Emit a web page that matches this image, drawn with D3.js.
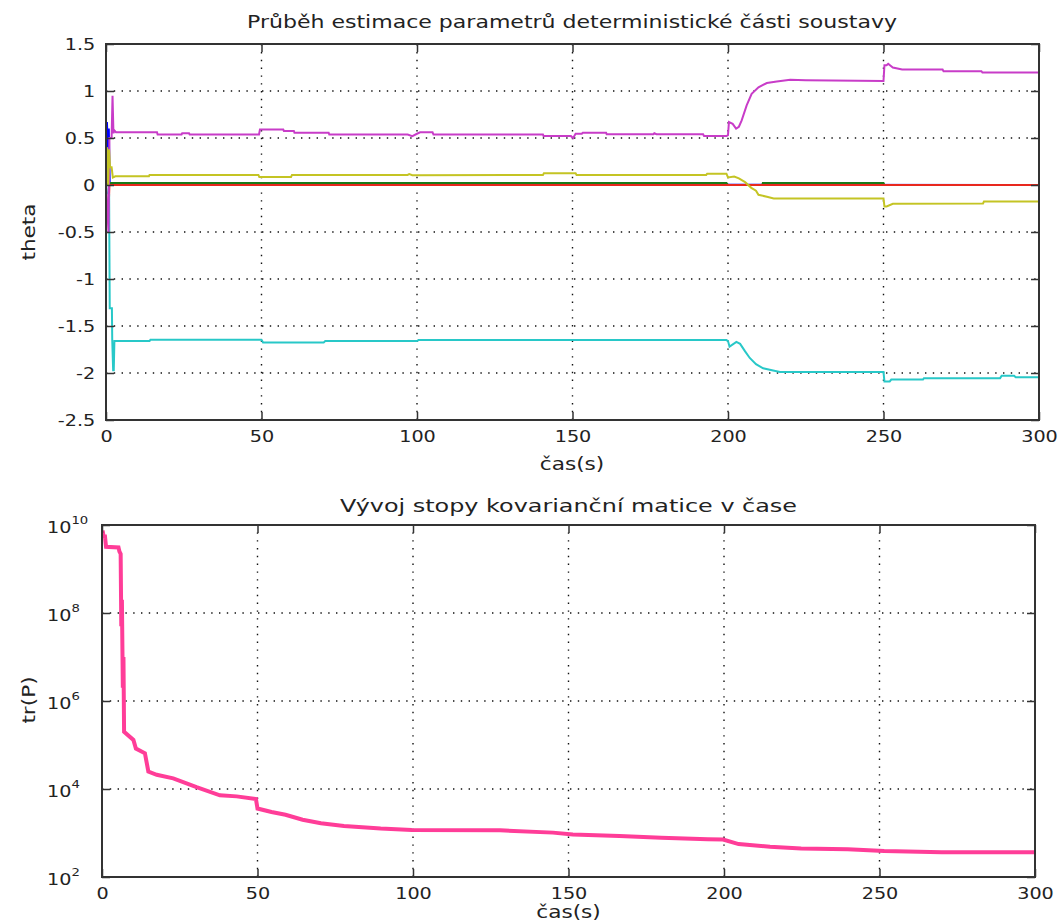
<!doctype html>
<html>
<head>
<meta charset="utf-8">
<script src="https://d3js.org/d3.v7.min.js"></script>
<style>
  body { margin: 0; background: #fff; }
  text { font-family: "DejaVu Sans", sans-serif; fill: #222; }
  .tick text { font-size: 16px; }
  .tick line { stroke: #333; stroke-width: 1.5; }
  .grid line { stroke: #111; stroke-width: 1.4; stroke-dasharray: 1.4, 6.4; }
  .frame { fill: none; stroke: #333; stroke-width: 2; }
  .series { fill: none; stroke-linejoin: miter; }
</style>
</head>
<body>
<svg id="chart" width="1063" height="924"></svg>
<script>
// ---- data: [time (s), value] ----
var timeTicks = [0, 50, 100, 150, 200, 250, 300];
var thetaTicks = [-2.5, -2, -1.5, -1, -0.5, 0, 0.5, 1, 1.5];
var thetaTickLabels = ["-2.5", "-2", "-1.5", "-1", "-0.5", "0", "0.5", "1", "1.5"];
var trTicks = [1e2, 1e4, 1e6, 1e8, 1e10];
var trTickExp = ["2", "4", "6", "8", "10"];

var theta1 = [[0,0],[0.3,0.67],[0.6,0.4],[0.9,0.6],[1.2,0.01],[300,0]];
var theta2 = [[0,0],[1,0.02],[199.5,0.02],[200,0],[211,0],[211.2,0.02],[250,0.02],[250.3,0],[300,0]];
var theta3 = [[0,0],[0.3,-0.36],[0.8,-0.3],[1.1,0],[300,0]];
var theta4 = [[0,0],[0.3,-0.08],[1.0,-0.1],[1.2,-1.31],[1.9,-1.31],[2.0,-1.64],[2.3,-1.97],[2.5,-1.97],
  [2.7,-1.66],[14,-1.66],[14.3,-1.645],[50,-1.645],[50.5,-1.675],[70,-1.675],[70.5,-1.66],[100,-1.66],
  [100.5,-1.65],[199.5,-1.65],[200,-1.66],[200.5,-1.72],[202.7,-1.67],[203.9,-1.69],[205.5,-1.77],
  [207,-1.84],[209,-1.906],[211.3,-1.95],[214.5,-1.973],[216.7,-1.99],[250,-1.99],[250.3,-2.09],
  [252,-2.09],[252.5,-2.07],[262.7,-2.07],[263,-2.055],[287.5,-2.055],[288,-2.03],[292,-2.03],
  [292.5,-2.045],[300,-2.045]];
var theta5 = [[0,0],[0.8,-0.5],[1.1,0.5],[1.8,0.5],[2.1,0.95],[2.4,0.55],[2.7,0.58],[3.2,0.562],
  [16.4,0.562],[16.6,0.537],[24.3,0.537],[24.5,0.55],[26.7,0.55],[26.9,0.537],[49.2,0.537],[49.5,0.59],
  [57,0.59],[57.2,0.575],[60.4,0.575],[60.6,0.555],[71.6,0.555],[71.8,0.537],[97,0.537],[98.5,0.52],
  [100,0.545],[101,0.56],[105,0.56],[105.3,0.537],[140.5,0.537],[140.7,0.52],[149.5,0.52],[150.2,0.5],
  [151,0.545],[153,0.545],[153.3,0.555],[160.8,0.555],[161,0.54],[176,0.54],[176.3,0.55],[177,0.54],
  [192,0.54],[192.3,0.52],[199.5,0.52],[200,0.53],[200.3,0.67],[201.5,0.65],[202.6,0.6],[203.5,0.62],
  [204.4,0.687],[206,0.847],[207.6,0.97],[209.8,1.04],[212.5,1.085],[215.7,1.1],[220,1.12],
  [225,1.115],[250,1.107],[250.3,1.275],[251,1.275],[251.5,1.29],[253,1.25],[256,1.228],[269,1.228],
  [269.3,1.21],[281.5,1.21],[281.8,1.197],[300,1.197]];
var theta6 = [[0,0],[0.3,0.4],[0.7,0],[1.0,0.38],[1.3,0.19],[1.8,0.19],[2.2,0.08],[3,0.092],
  [13.8,0.092],[14,0.107],[49,0.107],[49.3,0.085],[59.5,0.085],[59.8,0.107],[97,0.107],[97.5,0.117],
  [98.5,0.105],[140.5,0.107],[140.8,0.124],[151,0.124],[151.3,0.107],[193,0.107],[193.3,0.12],
  [199.5,0.12],[200,0.08],[202,0.09],[203.5,0.07],[205.5,0.03],[207.5,-0.03],[209,-0.06],
  [209.8,-0.104],[212.5,-0.125],[214.7,-0.143],[250,-0.143],[250.3,-0.228],[251,-0.228],[253,-0.2],
  [282,-0.196],[282.3,-0.175],[300,-0.175]];

var trP = [[0.2,7.5e9],[0.6,5e9],[0.9,6e9],[1.3,3.2e9],[5.3,3.1e9],[5.6,2.5e9],[6.0,2.2e9],[6.2,5e7],
  [6.4,2e8],[6.7,2e6],[6.9,1e7],[7.1,2e5],[10.1,1.3e5],[10.9,8.3e4],[13.8,6.5e4],[14.9,2.5e4],
  [17.6,2.1e4],[22.9,1.75e4],[30.4,1.1e4],[37.9,7.2e3],[43.3,6.8e3],[49.5,5.9e3],[50,3.6e3],
  [54.5,3.0e3],[59,2.6e3],[64.5,2.0e3],[70.4,1.66e3],[77.8,1.45e3],[89.6,1.26e3],[99.6,1.17e3],
  [128,1.15e3],[145,1.02e3],[151.4,930],[166.4,850],[179.8,775],[194.8,725],[199.7,710],[204.7,560],
  [214.8,490],[224.8,447],[239.8,427],[251.5,390],[270,363],[300,363]];

var thetaSeries = [theta1, theta2, theta3, theta4, theta5, theta6];
var thetaColors = ["#0000ff", "#1a7a1a", "#e8281e", "#28c8c8", "#c83cc8", "#c4c424"];

var svg = d3.select("#chart");
var sx = 1.2; // the reference text is drawn wide

var x1 = d3.scaleLinear().domain([0, 300]).range([106, 1039]);
var y1 = d3.scaleLinear().domain([-2.5, 1.5]).range([420, 44]);
var x2 = d3.scaleLinear().domain([0, 300]).range([102, 1035]);
var y2 = d3.scaleLog().domain([1e2, 1e10]).range([877, 525]);

function grid(xs, ys, xv, yv) {
  var g = svg.append("g").attr("class", "grid");
  g.selectAll(".gx").data(xv).enter().append("line")
    .attr("x1", d => xs(d)).attr("x2", d => xs(d))
    .attr("y1", ys.range()[0]).attr("y2", ys.range()[1]);
  g.selectAll(".gy").data(yv).enter().append("line")
    .attr("y1", d => ys(d)).attr("y2", d => ys(d))
    .attr("x1", xs.range()[0]).attr("x2", xs.range()[1]);
}

function clip(id, xs, ys) {
  svg.append("clipPath").attr("id", id).append("rect")
    .attr("x", xs.range()[0]).attr("y", ys.range()[1])
    .attr("width", xs.range()[1] - xs.range()[0])
    .attr("height", ys.range()[0] - ys.range()[1]);
}

function frame(xs, ys, xv, yv) {
  var l = xs.range()[0], r = xs.range()[1], t = ys.range()[1], b = ys.range()[0];
  svg.append("g").attr("transform", "translate(0," + t + ")")
    .call(d3.axisTop(xs).tickValues(xv).tickFormat(() => "").tickSizeInner(-8).tickSizeOuter(0))
    .call(g => g.select(".domain").remove());
  svg.append("g").attr("transform", "translate(" + r + ",0)")
    .call(d3.axisRight(ys).tickValues(yv).tickFormat(() => "").tickSizeInner(-8).tickSizeOuter(0))
    .call(g => g.select(".domain").remove());
  svg.append("g").attr("transform", "translate(0," + b + ")")
    .call(d3.axisBottom(xs).tickValues(xv).tickSizeInner(-8).tickSizeOuter(0).tickPadding(11))
    .call(g => g.select(".domain").remove())
    .selectAll("text").attr("transform", "scale(" + sx + ",1)");
  svg.append("rect").attr("class", "frame")
    .attr("x", l).attr("y", t).attr("width", r - l).attr("height", b - t);
}

// ---- top plot ----
grid(x1, y1, timeTicks.slice(1, -1), thetaTicks.slice(1, -1));
clip("c1", x1, y1);
var line1 = d3.line().x(d => x1(d[0])).y(d => y1(d[1]));
svg.append("g").attr("clip-path", "url(#c1)")
  .selectAll("path").data(thetaSeries).enter().append("path")
  .attr("class", "series")
  .attr("stroke", (d, i) => thetaColors[i])
  .attr("stroke-width", 2)
  .attr("d", line1);
frame(x1, y1, timeTicks, thetaTicks);
svg.append("g").attr("transform", "translate(106,0)")
  .call(d3.axisLeft(y1).tickValues(thetaTicks).tickFormat((d, i) => thetaTickLabels[i])
    .tickSizeInner(-8).tickSizeOuter(0).tickPadding(9))
  .call(g => g.select(".domain").remove())
  .selectAll("text").attr("transform", "scale(" + sx + ",1)");

svg.append("text").attr("x", 572).attr("y", 28).attr("text-anchor", "middle")
  .attr("textLength", 650).attr("lengthAdjust", "spacingAndGlyphs")
  .style("font-size", "17px")
  .text("Průběh estimace parametrů deterministické části soustavy");
svg.append("text").attr("transform", "translate(572,470) scale(" + sx + ",1)")
  .attr("text-anchor", "middle").style("font-size", "18px").text("čas(s)");
svg.append("text").attr("transform", "translate(35,232) rotate(-90) scale(" + sx + ",1)")
  .attr("text-anchor", "middle").style("font-size", "18px").text("theta");

// ---- bottom plot ----
grid(x2, y2, timeTicks.slice(1, -1), trTicks.slice(1, -1));
clip("c2", x2, y2);
var line2 = d3.line().x(d => x2(d[0])).y(d => y2(d[1]));
svg.append("g").attr("clip-path", "url(#c2)")
  .append("path").datum(trP)
  .attr("class", "series")
  .attr("stroke", "#ff3d98")
  .attr("stroke-width", 4)
  .attr("d", line2);
frame(x2, y2, timeTicks, trTicks);
var ly = svg.append("g").attr("transform", "translate(102,0)")
  .call(d3.axisLeft(y2).tickValues(trTicks).tickFormat(() => "")
    .tickSizeInner(-8).tickSizeOuter(0))
  .call(g => g.select(".domain").remove());
ly.selectAll(".tick").append("text")
  .attr("transform", "translate(-55,7) scale(" + sx + ",1)")
  .attr("x", 0).attr("text-anchor", "start").attr("fill", "#222")
  .each(function (d, i) {
    var t = d3.select(this);
    t.append("tspan").text("10");
    t.append("tspan").attr("dy", -9).style("font-size", "11px").text(trTickExp[i]);
  });

svg.append("text").attr("x", 568.5).attr("y", 512).attr("text-anchor", "middle")
  .attr("textLength", 457).attr("lengthAdjust", "spacingAndGlyphs")
  .style("font-size", "17px")
  .text("Vývoj stopy kovarianční matice v čase");
svg.append("text").attr("transform", "translate(568.5,918) scale(" + sx + ",1)")
  .attr("text-anchor", "middle").style("font-size", "18px").text("čas(s)");
svg.append("text").attr("transform", "translate(35,700) rotate(-90) scale(" + sx + ",1)")
  .attr("text-anchor", "middle").style("font-size", "18px").text("tr(P)");
</script>
</body>
</html>
